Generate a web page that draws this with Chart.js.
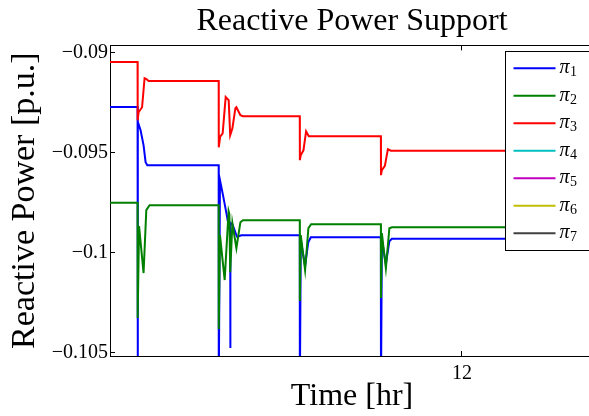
<!DOCTYPE html>
<html><head><meta charset="utf-8">
<script src="https://cdn.jsdelivr.net/npm/chart.js@4/dist/chart.umd.min.js"></script>
<style>
html,body{margin:0;padding:0;overflow:hidden;background:#fff;width:589px;height:416px}
canvas{display:block}
</style></head>
<body>
<canvas id="c" width="600" height="416"></canvas>
<script>
const titleText = 'Reactive Power Support';
const xLabel = 'Time [hr]';
const yLabel = 'Reactive Power [p.u.]';
const seriesBase = ['π','π','π','π','π','π','π'];
const seriesSub = ['1','2','3','4','5','6','7'];
const seriesColors = ['#0000ff','#008000','#ff0000','#00bfbf','#bf00bf','#bfbf00','#404040'];
const xTicks = [12];
const yTicks = [-0.105, -0.1, -0.095, -0.09];
const xMin = 10.915, xMax = 12.407;
const yMin = -0.105153, yMax = -0.08964;

// pi_1 (blue)
const t1 = [10.915, 11.0, 11.0003, 11.0012, 11.0093, 11.0185, 11.0247, 11.0300,
  11.25, 11.2503, 11.2540, 11.2633, 11.2738, 11.2787, 11.2855, 11.2858, 11.2864, 11.2923, 11.3025, 11.3071, 11.3201,
  11.5, 11.5003, 11.5031, 11.5164, 11.5262, 11.5340,
  11.75, 11.7503, 11.7531, 11.7654, 11.7762, 11.7840, 12.407];
const v1 = [-0.09272, -0.09272, -0.1070, -0.09346, -0.09388, -0.09463, -0.09547, -0.09562,
  -0.09562, -0.1070, -0.09637, -0.09712, -0.09802, -0.09847, -0.09849, -0.10475, -0.09852, -0.09857, -0.09903, -0.09920, -0.09912,
  -0.09912, -0.1070, -0.09936, -0.10066, -0.09947, -0.09922,
  -0.09922, -0.1070, -0.09936, -0.10056, -0.09942, -0.09930, -0.09930];
// pi_2 (green)
const t2 = [10.915, 11.0, 11.0003, 11.0046, 11.0185, 11.0269, 11.0370,
  11.25, 11.2503, 11.2540, 11.2685, 11.2806, 11.2830, 11.2855, 11.2923, 11.3046, 11.3170, 11.3250,
  11.5, 11.5003, 11.5031, 11.5164, 11.5266, 11.5350,
  11.75, 11.7503, 11.7531, 11.7654, 11.7762, 11.7840, 12.407];
const v2 = [-0.09750, -0.09750, -0.10326, -0.09867, -0.10101, -0.09787, -0.09762,
  -0.09762, -0.10381, -0.09912, -0.10136, -0.09792, -0.09807, -0.10097, -0.09852, -0.09977, -0.09847, -0.09837,
  -0.09837, -0.10240, -0.09912, -0.10086, -0.09877, -0.09857,
  -0.09857, -0.10226, -0.09902, -0.10077, -0.09877, -0.09872, -0.09872];
// pi_3 (red)
const t3 = [10.915, 11.0, 11.0003, 11.0031, 11.0139, 11.0216, 11.0262, 11.0340,
  11.25, 11.2503, 11.2546, 11.2623, 11.2716, 11.2809, 11.2855, 11.2886, 11.2923, 11.3015, 11.3046, 11.3170, 11.3250,
  11.5, 11.5003, 11.5031, 11.5113, 11.5195, 11.5278,
  11.75, 11.7503, 11.7531, 11.7623, 11.7716, 11.7809, 12.407];
const v3 = [-0.09047, -0.09047, -0.09338, -0.09298, -0.09273, -0.09128, -0.09131, -0.09142,
  -0.09142, -0.09473, -0.09420, -0.09403, -0.09222, -0.09238, -0.09413, -0.09398, -0.09378, -0.09278, -0.09273, -0.09313, -0.09318,
  -0.09318, -0.09537, -0.09512, -0.09488, -0.09393, -0.09418,
  -0.09418, -0.09612, -0.09587, -0.09566, -0.09483, -0.09490, -0.09490];
// pi_4 .. pi_7: not visible within the plotted range
const t4 = [], v4 = [], t5 = [], v5 = [], t6 = [], v6 = [], t7 = [], v7 = [];

const allT = [t1,t2,t3,t4,t5,t6,t7];
const allV = [v1,v2,v3,v4,v5,v6,v7];

const serif = 'Liberation Serif';

const datasets = allT.map((ts, i) => ({
  label: seriesBase[i] + seriesSub[i],
  data: ts.map((t, k) => ({x: t, y: allV[i][k]})),
  borderColor: seriesColors[i],
  backgroundColor: seriesColors[i],
  borderWidth: 2,
  pointRadius: 0,
  tension: 0,
  fill: false,
  order: 7 - i
}));

const fmtY = v => '\u2212' + String(Math.abs(+(+v).toFixed(4)));

const boxLegend = {
  id: 'boxLegend',
  afterDraw(chart) {
    const ctx = chart.ctx;
    const a = chart.chartArea;
    const x0 = Math.round(a.right - 89) + 0.5, y0 = Math.round(a.top + 6) + 0.5;
    const w = 120, h = 199;
    ctx.save();
    ctx.fillStyle = '#fff';
    ctx.fillRect(x0, y0, w, h);
    ctx.strokeStyle = '#000';
    ctx.lineWidth = 1;
    ctx.strokeRect(x0, y0, w, h);
    for (let i = 0; i < seriesBase.length; i++) {
      const ry = y0 + 16.8 + i * 27.5;
      ctx.beginPath();
      ctx.strokeStyle = seriesColors[i];
      ctx.lineWidth = 2;
      ctx.moveTo(x0 + 8, ry);
      ctx.lineTo(x0 + 50, ry);
      ctx.stroke();
      ctx.fillStyle = '#000';
      ctx.textBaseline = 'alphabetic';
      ctx.textAlign = 'left';
      ctx.font = 'italic 20px "' + serif + '"';
      ctx.fillText(seriesBase[i], x0 + 54, ry + 5);
      const pw = ctx.measureText(seriesBase[i]).width;
      ctx.font = '14px "' + serif + '"';
      ctx.fillText(seriesSub[i], x0 + 54 + pw + 0.5, ry + 8);
    }
    ctx.restore();
  }
};

new Chart(document.getElementById('c'), {
  type: 'line',
  data: { datasets },
  options: {
    responsive: false,
    animation: false,
    layout: { padding: { left: 0, right: 6, top: 0, bottom: 0 } },
    plugins: {
      legend: { display: false },
      tooltip: { enabled: false },
      title: {
        display: true, text: titleText, color: '#000', fullSize: false,
        font: { family: serif, size: 32, weight: 'normal' },
        padding: { top: 2, bottom: 5 }
      }
    },
    scales: {
      x: {
        type: 'linear', position: 'bottom', min: xMin, max: xMax,
        afterBuildTicks: s => { s.ticks = xTicks.map(v => ({ value: v })); },
        afterFit: s => { s.height = 60; },
        ticks: { color: '#000', font: { family: serif, size: 20 }, padding: 11, maxRotation: 0, autoSkip: false,
                 callback: v => String(v) },
        grid: { display: true, drawOnChartArea: false, drawTicks: true, tickLength: -5, color: '#000' },
        border: { display: true, color: '#000', width: 1 },
        title: { display: true, text: xLabel, color: '#000', font: { family: serif, size: 32 }, padding: { top: 0, bottom: 0 } }
      },
      x2: {
        type: 'linear', position: 'top', min: xMin, max: xMax,
        afterBuildTicks: s => { s.ticks = xTicks.map(v => ({ value: v })); },
        afterFit: s => { s.height = 0; },
        ticks: { display: false },
        grid: { display: true, drawOnChartArea: false, drawTicks: true, tickLength: -5, color: '#000' },
        border: { display: true, color: '#000', width: 1 }
      },
      y: {
        type: 'linear', position: 'left', min: yMin, max: yMax,
        afterBuildTicks: s => { s.ticks = yTicks.map(v => ({ value: v })); },
        afterFit: s => { s.width = 110; },
        ticks: { color: '#000', font: { family: serif, size: 20 }, padding: 7, callback: v => fmtY(v) },
        grid: { display: true, drawOnChartArea: false, drawTicks: true, tickLength: -5, color: '#000' },
        border: { display: true, color: '#000', width: 1 },
        title: { display: true, text: yLabel, color: '#000', font: { family: serif, size: 34 }, padding: { top: 5, bottom: 0 } }
      }
    }
  },
  plugins: [boxLegend]
});
</script>
</body></html>
